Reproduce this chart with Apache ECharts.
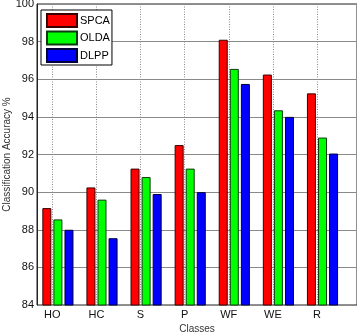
<!DOCTYPE html>
<html>
<head>
<meta charset="utf-8">
<script src="https://cdn.jsdelivr.net/npm/echarts@6/dist/echarts.min.js"></script>
<style>
  html, body { margin: 0; padding: 0; background: #fff; }
  #chart { width: 357px; height: 334px; }
</style>
</head>
<body>
<div id="chart"></div>
<script>
// classes on the x axis
const classes = ['HO', 'HC', 'S', 'P', 'WF', 'WE', 'R'];
// accuracy per method (%)
const spca = [89.15, 90.25, 91.25, 92.5, 98.1, 96.25, 95.25];
const olda = [88.55, 89.6, 90.8, 91.25, 96.55, 94.35, 92.9];
const dlpp = [88.0, 87.55, 89.9, 90.0, 95.75, 94.0, 92.05];
const yMin = 84, yMax = 100, yStep = 2;

const myChart = echarts.init(document.getElementById('chart'), null, { renderer: 'canvas' });

const font = 'Liberation Sans, Arial, sans-serif';
const gridTop = 4, gridBottom = 29;

const makeBar = (name, data, color, border) => ({
    name: name,
    type: 'bar',
    xAxisIndex: 2,
    yAxisIndex: 2,
    data: data,
    barWidth: 9,
    barGap: '23%',
    itemStyle: { color: color, borderColor: border, borderWidth: 1 },
    emphasis: { disabled: true }
});

const option = {
    animation: false,
    backgroundColor: '#fff',
    textStyle: { fontFamily: font },
    grid: [
        // frame, y axis, horizontal grid lines
        { left: 37, right: 0, top: gridTop, bottom: gridBottom, show: true, borderColor: '#222', borderWidth: 1,
          backgroundColor: 'transparent', containLabel: false, outerBoundsMode: 'none' },
        // tick labels and dotted vertical lines
        { left: 52.3, right: 40, top: gridTop, bottom: gridBottom, containLabel: false, outerBoundsMode: 'none' },
        // bars
        { left: 35.85, right: 12.45, top: gridTop, bottom: gridBottom, containLabel: false, outerBoundsMode: 'none' }
    ],
    legend: {
        left: 41,
        top: 10,
        orient: 'vertical',
        itemWidth: 30,
        itemHeight: 13,
        itemGap: 2.5,
        padding: [3, 2, 2, 5],
        borderColor: '#000',
        borderWidth: 1,
        backgroundColor: '#fff',
        icon: 'rect',
        textStyle: { fontFamily: font, fontSize: 11, color: '#000', padding: [0, 0, 0, -2] },
        data: ['SPCA', 'OLDA', 'DLPP']
    },
    xAxis: [
        {
            gridIndex: 0, type: 'value', min: 0, max: 1,
            axisLine: { show: false }, axisTick: { show: false }, axisLabel: { show: false }, splitLine: { show: false },
            name: 'Classes', nameLocation: 'middle', nameGap: 19,
            nameTextStyle: { fontFamily: font, fontSize: 10, color: '#333' }
        },
        {
            gridIndex: 1, type: 'category', data: classes, boundaryGap: false,
            axisLine: { show: false }, axisTick: { show: false },
            axisLabel: { fontFamily: font, fontSize: 11, color: '#111', margin: 4, interval: 0, hideOverlap: false },
            splitLine: { show: true, interval: 0, lineStyle: { color: '#888', type: [1, 1.5], width: 1 } }
        },
        {
            gridIndex: 2, type: 'category', data: classes,
            axisLine: { show: false }, axisTick: { show: false }, axisLabel: { show: false }, splitLine: { show: false }
        }
    ],
    yAxis: [
        {
            gridIndex: 0, type: 'value', min: yMin, max: yMax, interval: yStep,
            axisLine: { show: true, lineStyle: { color: '#222', width: 1 } },
            axisTick: { show: false },
            axisLabel: { fontFamily: font, fontSize: 11, color: '#111', margin: 3, hideOverlap: false },
            splitLine: { show: true, lineStyle: { color: '#8a8a8a', width: 1 } },
            name: 'Classification Accuracy %', nameLocation: 'middle', nameGap: 25, nameMoveOverlap: false,
            nameTextStyle: { fontFamily: font, fontSize: 10, color: '#333' }
        },
        {
            gridIndex: 1, type: 'value', min: yMin, max: yMax, show: false
        },
        {
            gridIndex: 2, type: 'value', min: yMin, max: yMax, show: false
        }
    ],
    series: [
        makeBar('SPCA', spca, '#ff0000', '#3a0000'),
        makeBar('OLDA', olda, '#00ff00', '#0f3a0f'),
        makeBar('DLPP', dlpp, '#0000ff', '#00003a')
    ]
};

myChart.setOption(option);
</script>
</body>
</html>
